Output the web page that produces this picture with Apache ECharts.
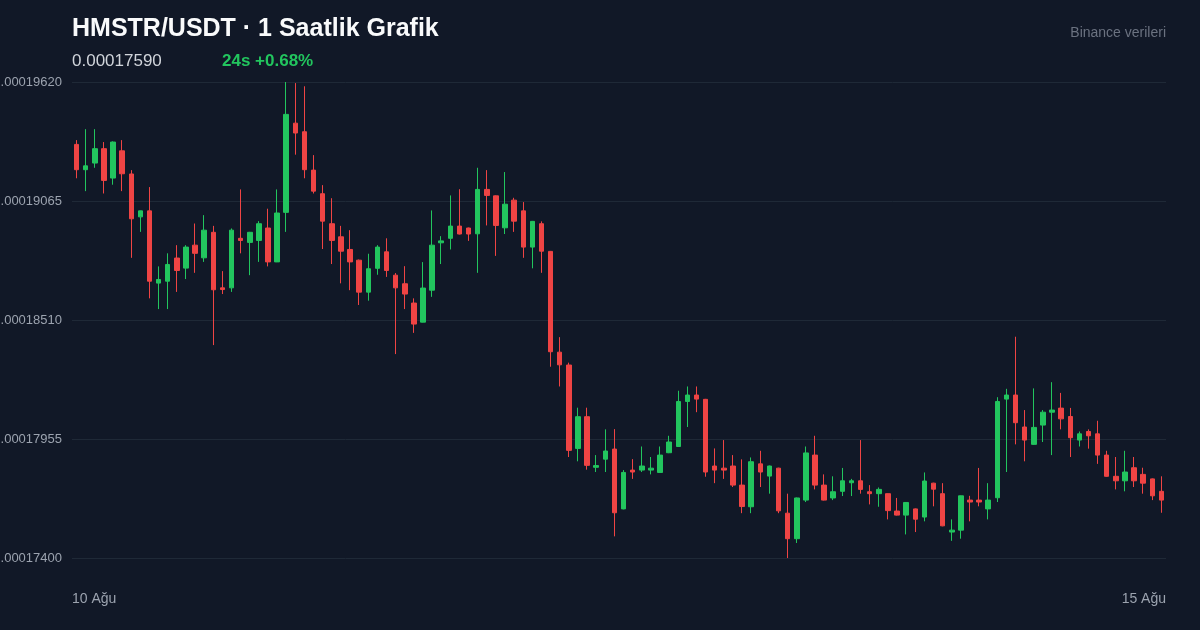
<!DOCTYPE html>
<html>
<head>
<meta charset="utf-8">
<script src="https://cdn.jsdelivr.net/npm/echarts@6/dist/echarts.min.js"></script>
<style>
html,body{margin:0;padding:0;background:#111827;}
#chart{width:1200px;height:630px;}
</style>
</head>
<body>
<div id="chart"></div>
<script>
// Prices are stored in units of 1e-8 USDT (e.g. 19620 => 0.00019620)
const PRICE_UNIT = 1e8;

const openPrices = [
  19329,19211,19242,19309,19172,19299,19191,18991,19019,18682,
  18691,18799,18752,18859,18800,18919,18660,18660,18891,18872,
  18881,18939,18781,19012,19428,19388,19209,19099,18959,18898,
  18839,18789,18640,18751,18828,18719,18679,18589,18500,18649,
  18870,18891,18948,18939,18912,19119,19089,18940,19069,19019,
  18850,18959,18830,18360,18300,17911,18059,17823,17861,17908,
  17629,17810,17810,17810,17799,17891,17920,18130,18160,18140,
  17829,17819,17829,17740,17639,17839,17782,17819,17609,17490,
  17670,17880,17740,17680,17711,17751,17760,17709,17700,17700,
  17619,17600,17629,17591,17749,17700,17521,17530,17670,17670,
  17629,17681,18141,18160,18011,17930,18020,18080,18099,18060,
  17950,17990,17979,17880,17781,17760,17821,17790,17769,17711
];
const closePrices = [
  19211,19229,19309,19161,19340,19192,18982,19019,18691,18699,
  18769,18741,18850,18821,18929,18651,18652,18929,18881,18919,
  18959,18781,19009,19469,19382,19211,19111,18971,18881,18831,
  18781,18640,18749,18850,18741,18660,18631,18491,18659,18859,
  18879,18948,18911,18911,19119,19091,18951,19050,18971,18850,
  18970,18831,18362,18301,17902,18059,17832,17831,17899,17611,
  17799,17801,17829,17819,17880,17941,18130,18160,18141,17801,
  17810,17810,17740,17640,17849,17801,17829,17620,17490,17680,
  17890,17740,17670,17709,17760,17760,17720,17700,17720,17621,
  17600,17659,17581,17759,17721,17550,17530,17690,17661,17661,
  17670,18130,18160,18031,17950,18009,18080,18090,18049,17961,
  17979,17970,17880,17781,17760,17801,17760,17749,17690,17670
];
const lowPrices = [
  19171,19111,19220,19100,19141,19111,18800,18921,18611,18561,
  18561,18641,18701,18730,18781,18393,18631,18641,18821,18719,
  18781,18760,18780,18921,19281,19171,19100,18841,18771,18681,
  18649,18580,18600,18721,18711,18351,18561,18450,18499,18618,
  18771,18839,18909,18879,18730,18951,18809,18911,18921,18800,
  18751,18730,18292,18200,17871,17851,17812,17801,17801,17501,
  17627,17769,17801,17790,17797,17889,17918,18011,18080,17779,
  17749,17769,17731,17609,17609,17731,17700,17609,17400,17470,
  17661,17720,17668,17670,17689,17689,17700,17650,17639,17580,
  17598,17510,17521,17571,17641,17548,17480,17490,17571,17641,
  17580,17661,17801,17930,17851,17928,17941,17880,18000,17871,
  17920,17910,17839,17779,17720,17711,17731,17700,17670,17611
];
const highPrices = [
  19349,19400,19400,19340,19343,19349,19209,19020,19130,18760,
  18821,18859,18859,18960,18999,18949,18738,18937,19119,18921,
  18971,19029,19119,19620,19615,19600,19279,19139,19078,18949,
  18929,18792,18819,18859,18891,18729,18761,18611,18780,19021,
  18901,19091,19120,18941,19220,19209,19091,19200,19080,19060,
  18972,18970,18832,18430,18311,18101,18101,17880,18000,18001,
  17810,17861,17920,17871,17920,17970,18180,18200,18200,18142,
  17911,17950,17880,17860,17869,17900,17831,17821,17700,17682,
  17920,17970,17790,17781,17820,17769,17950,17740,17729,17701,
  17680,17661,17631,17799,17751,17749,17580,17691,17690,17820,
  17749,18150,18189,18432,18090,18191,18090,18220,18170,18100,
  17990,18000,18040,17900,17871,17900,17871,17821,17771,17781
];

// y-axis tick setup (same units)
const yMin = 17400, yMax = 19620, yStep = 555;
// x-axis end labels
const dateLabels = ['10 Ağu', '15 Ağu'];

// hourly category labels (120 one-hour candles starting 10 Aug 00:00)
const categories = [];
for (let i = 0; i < openPrices.length; i++) {
  const day = 10 + Math.floor(i / 24);
  const hr = i % 24;
  categories.push(day + ' Ağu ' + String(hr).padStart(2, '0') + ':00');
}

const candleData = openPrices.map((o, i) => [
  o / PRICE_UNIT, closePrices[i] / PRICE_UNIT, lowPrices[i] / PRICE_UNIT, highPrices[i] / PRICE_UNIT
]);

const FONT = '"Liberation Sans", Arial, Helvetica, sans-serif';
const chart = echarts.init(document.getElementById('chart'), null, {renderer: 'canvas'});
chart.setOption({
  backgroundColor: '#111827',
  animation: false,
  grid: {left: 72, right: 34, top: 82, bottom: 72, containLabel: false, outerBoundsMode: 'none'},
  xAxis: {
    type: 'category',
    data: categories,
    boundaryGap: true,
    axisLine: {show: false},
    axisTick: {show: false},
    axisLabel: {show: false},
    splitLine: {show: false}
  },
  yAxis: {
    type: 'value',
    scale: true,
    min: yMin / PRICE_UNIT,
    max: yMax / PRICE_UNIT,
    interval: yStep / PRICE_UNIT,
    axisLine: {show: false},
    axisTick: {show: false},
    axisLabel: {
      color: '#9ca3af',
      fontSize: 13,
      fontFamily: FONT,
      margin: 10,
      formatter: v => v.toFixed(8)
    },
    splitLine: {lineStyle: {color: '#1f2937', width: 1}}
  },
  series: [{
    type: 'candlestick',
    data: candleData,
    barWidth: 5,
    itemStyle: {
      color: '#22c55e',
      color0: '#ef4444',
      borderColor: '#22c55e',
      borderColor0: '#ef4444',
      borderWidth: 1
    }
  }],
  graphic: [
    {type: 'text', left: 72, top: 17, style: {text: 'HMSTR/USDT · 1 Saatlik Grafik', fill: '#f9fafb', font: 'bold 25px ' + FONT}},
    {type: 'text', left: 72, top: 53, style: {text: '0.00017590', fill: '#d1d5db', font: '17px ' + FONT}},
    {type: 'text', left: 222, top: 53, style: {text: '24s +0.68%', fill: '#22c55e', font: 'bold 17px ' + FONT}},
    {type: 'text', right: 34, top: 26, style: {text: 'Binance verileri', fill: '#6b7280', font: '14px ' + FONT}},
    {type: 'text', left: 72, top: 592, style: {text: dateLabels[0], fill: '#9ca3af', font: '14px ' + FONT}},
    {type: 'text', right: 34, top: 592, style: {text: dateLabels[1], fill: '#9ca3af', font: '14px ' + FONT}}
  ]
});
</script>
</body>
</html>
